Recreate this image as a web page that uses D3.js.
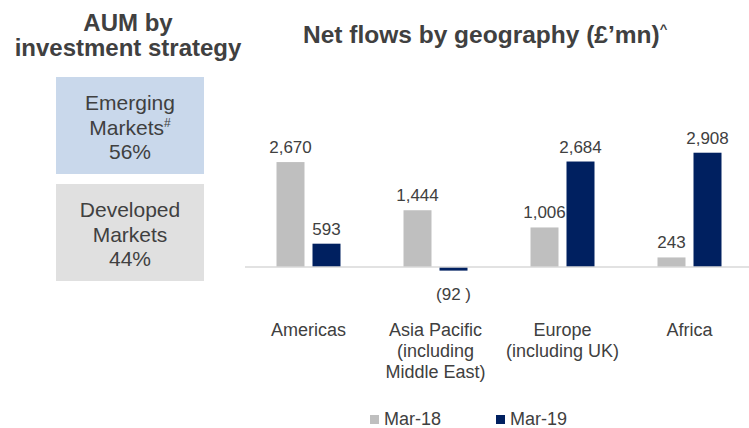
<!DOCTYPE html>
<html>
<head>
<meta charset="utf-8">
<script src="https://cdn.jsdelivr.net/npm/d3@7"></script>
<style>
  html, body { margin: 0; padding: 0; background: #ffffff; }
  svg { display: block; font-family: "Liberation Sans", Arial, Helvetica, sans-serif; }
</style>
</head>
<body>
<svg id="chart" width="749" height="428"></svg>
<script>
// Net flows by geography (GBP mn)
const categories = ["Americas", "Asia Pacific", "Europe", "Africa"];
const categoryLines = [
  ["Americas"],
  ["Asia Pacific", "(including", "Middle East)"],
  ["Europe", "(including UK)"],
  ["Africa"]
];
const seriesNames = ["Mar-18", "Mar-19"];
const mar18 = [2670, 1444, 1006, 243];
const mar19 = [593, -92, 2684, 2908];

// AUM split by investment strategy
const aumLabels = [["Emerging", "Markets", "56%"], ["Developed", "Markets", "44%"]];

const colors = { "Mar-18": "#bfbfbf", "Mar-19": "#002060" };
const textColor = "#404040";

const svg = d3.select("#chart");

// ---- Left panel: AUM boxes ----
svg.append("text")
  .attr("x", 128).attr("y", 31)
  .attr("text-anchor", "middle")
  .attr("font-size", 24).attr("font-weight", "bold")
  .attr("fill", textColor)
  .selectAll("tspan")
  .data(["AUM by", "investment strategy"])
  .join("tspan")
  .attr("x", 128)
  .attr("dy", (d, i) => i === 0 ? 0 : 25)
  .text(d => d);

const boxes = [
  { fill: "#c9d8eb", y: 77, lines: aumLabels[0], sup: true },
  { fill: "#e0e0e0", y: 184, lines: aumLabels[1], sup: false }
];
boxes.forEach(b => {
  svg.append("rect")
    .attr("x", 56).attr("y", b.y)
    .attr("width", 148).attr("height", 97)
    .attr("fill", b.fill);
  const t = svg.append("text")
    .attr("text-anchor", "middle")
    .attr("font-size", 21)
    .attr("fill", textColor);
  b.lines.forEach((line, i) => {
    const ts = t.append("tspan")
      .attr("x", 130)
      .attr("y", b.y + 33 + i * 24.5)
      .text(line);
    if (b.sup && i === 1) {
      ts.append("tspan")
        .attr("font-size", 12)
        .attr("dy", -8)
        .text("#");
    }
  });
});

// ---- Right panel: grouped bar chart ----
svg.append("text")
  .attr("x", 303).attr("y", 43)
  .attr("font-size", 24.5).attr("font-weight", "bold")
  .attr("fill", textColor)
  .text("Net flows by geography (£’mn)")
  .append("tspan")
  .attr("font-size", 13)
  .attr("dy", -10)
  .text("^");

const x0 = d3.scaleBand()
  .domain(categories)
  .range([245, 753])
  .padding(0);

const barW = 28, barGap = 8;
const x1 = d3.scaleOrdinal()
  .domain(seriesNames)
  .range([-(barW + barGap / 2), barGap / 2]);

const y = d3.scaleLinear()
  .domain([-1000, 3000])
  .range([306.3, 149.1]);

const rows = categories.map((c, i) => ({
  category: c,
  values: [
    { series: "Mar-18", value: mar18[i] },
    { series: "Mar-19", value: mar19[i] }
  ]
}));

const groups = svg.append("g")
  .selectAll("g")
  .data(rows)
  .join("g")
  .attr("transform", d => `translate(${x0(d.category) + x0.bandwidth() / 2},0)`);

groups.selectAll("rect")
  .data(d => d.values)
  .join("rect")
  .attr("x", d => x1(d.series))
  .attr("width", barW)
  .attr("y", d => y(Math.max(0, d.value)))
  .attr("height", d => Math.abs(y(d.value) - y(0)))
  .attr("fill", d => colors[d.series]);

const fmt = d3.format(",");
groups.selectAll("text.value")
  .data(d => d.values)
  .join("text")
  .attr("class", "value")
  .attr("x", d => x1(d.series) + barW / 2)
  .attr("y", d => d.value >= 0 ? y(d.value) - 9 : y(d.value) + 29)
  .attr("text-anchor", "middle")
  .attr("font-size", 17)
  .attr("fill", textColor)
  .text(d => d.value >= 0 ? fmt(d.value) : `(${fmt(-d.value)} )`);

// zero line
svg.append("line")
  .attr("x1", 245).attr("x2", 749)
  .attr("y1", y(0)).attr("y2", y(0))
  .attr("stroke", "#d9d9d9")
  .attr("stroke-width", 1.5);

// category labels
categories.forEach((c, i) => {
  const t = svg.append("text")
    .attr("text-anchor", "middle")
    .attr("font-size", 18)
    .attr("fill", textColor);
  categoryLines[i].forEach((line, j) => {
    t.append("tspan")
      .attr("x", x0(c) + x0.bandwidth() / 2)
      .attr("y", 336 + j * 21)
      .text(line);
  });
});

// legend
const legendX = [370, 496];
seriesNames.forEach((s, i) => {
  svg.append("rect")
    .attr("x", legendX[i]).attr("y", 415)
    .attr("width", 9).attr("height", 9)
    .attr("fill", colors[s]);
  svg.append("text")
    .attr("x", legendX[i] + 14).attr("y", 425)
    .attr("font-size", 18)
    .attr("fill", textColor)
    .text(s);
});
</script>
</body>
</html>
